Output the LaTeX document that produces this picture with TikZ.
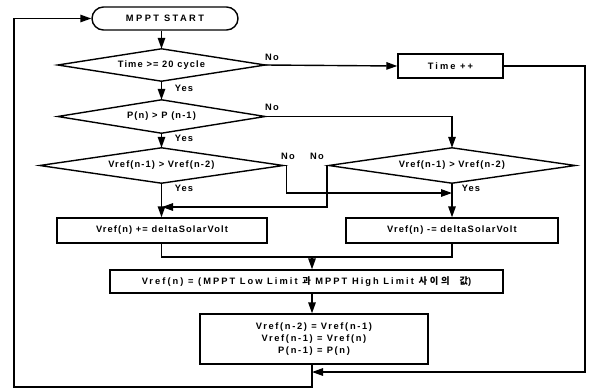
\documentclass[tikz,border=0pt]{standalone}
\usepackage{fontspec}
\setmainfont{Liberation Sans}[LetterSpace=12]
\newfontfamily\kr{Noto Sans CJK KR}[LetterSpace=30]
\usetikzlibrary{shapes.misc,arrows.meta}
\newcommand\fs{\fontsize{9.3}{11.7}\selectfont\bfseries}
\tikzset{
  ln/.style={line width=1.4pt},
  boxn/.style={draw, ln, rectangle, inner sep=2pt, font=\fs},
  decn/.style={rectangle, inner sep=0pt, font=\fs},
  diam/.style={ln, line join=miter},
  termn/.style={draw, ln, rounded rectangle, inner sep=2pt, font=\fs},
  arr/.style={ln, -{Triangle[length=11pt,width=7.5pt]}},
  lbl/.style={font=\fs, inner sep=0pt}
}
\begin{document}
\begin{tikzpicture}[x=1pt,y=-1pt]
\useasboundingbox (0,0) rectangle (592,389);
\node[termn, minimum width=150pt, minimum height=23pt] (start) at (165,18.5) {\addfontfeature{LetterSpace=26}MPPT START};
\node[decn, minimum width=207pt, minimum height=32pt] (d1) at (161.5,65) {Time >= 20 cycle};
\node[boxn, minimum width=105pt, minimum height=24pt] (tpp) at (450.5,66) {\addfontfeature{LetterSpace=22}Time ++};
\node[decn, minimum width=207pt, minimum height=33pt] (d2) at (161.5,116.5) {P(n) > P (n-1)};
\node[decn, minimum width=243pt, minimum height=35pt] (d3) at (161.5,165.5) {Vref(n-1) > Vref(n-2)};
\node[decn, minimum width=246pt, minimum height=35pt] (d4) at (452,165.5) {Vref(n-1) > Vref(n-2)};
\node[boxn, minimum width=210pt, minimum height=25pt] (ba) at (162,230.5) {Vref(n) += deltaSolarVolt};
\node[boxn, minimum width=212pt, minimum height=25pt] (bb) at (452,230.5) {Vref(n) -= deltaSolarVolt};
\node[boxn, minimum width=393pt, minimum height=23pt] (bc) at (306.5,281.5) {\addfontfeature{LetterSpace=22}Vref(n) = (MPPT Low Limit {\kr 과} MPPT High Limit {\kr 사이의\ \ 값})};
\node[boxn, minimum width=228pt, minimum height=50pt, align=center] (bd) at (314,339) {\addfontfeature{LetterSpace=18}Vref(n-2) = Vref(n-1)\\\addfontfeature{LetterSpace=18}Vref(n-1) = Vref(n)\\\addfontfeature{LetterSpace=18}P(n-1) = P(n)};

\foreach \d in {d1,d2,d3,d4}
  \draw[diam] (\d.west) -- (\d.north) -- (\d.east) -- (\d.south) -- cycle;

\coordinate (r1) at (585,372);
\coordinate (j3) at (312,372);
\coordinate (m) at (312,257);
\coordinate (j1) at (452,193);
\coordinate (j2) at (162,207);
\coordinate (bl) at (312,387);
\coordinate (br) at (14,387);
\coordinate (tl) at (14,18.5);

\draw[arr] (start.south -| d1.north) -- (d1.north);
\draw[arr] (d1.east) -- (tpp.west);
\draw[arr] (tpp.east) -| (r1) -- (j3);
\draw[arr] (d1.south) -- (d2.north);
\draw[arr] (d2.east) -| (d4.north);
\draw[arr] (d2.south) -- (d3.north);
\draw[arr] (d3.east) -- ++(3,0) |- (j1);
\draw[arr] (d4.west) -- ++(-2,0) |- (j2);
\draw[arr] (d3.south) -- (d3.south |- ba.north);
\draw[arr] (d4.south) -- (bb.north);
\draw[ln] (d3.south |- ba.south) |- (m);
\draw[ln] (bb.south) |- (m);
\draw[arr] (m) -- (m |- bc.north);
\draw[arr] (m |- bc.south) -- (m |- bd.north);
\draw[arr] (m |- bd.south) -- (bl) -- (br) -- (tl) -- (start.west);

\node[lbl] (n1) at (272,57) {No};
\node[lbl] (n2) at (272,107) {No};
\node[lbl] (n3) at (288,156) {No};
\node[lbl] (n4) at (317,156) {No};
\node[lbl] (y1) at (184,88) {Yes};
\node[lbl] (y2) at (184,138) {Yes};
\node[lbl] (y3) at (184,188) {Yes};
\node[lbl] (y4) at (471,188) {Yes};
\end{tikzpicture}
\end{document}
